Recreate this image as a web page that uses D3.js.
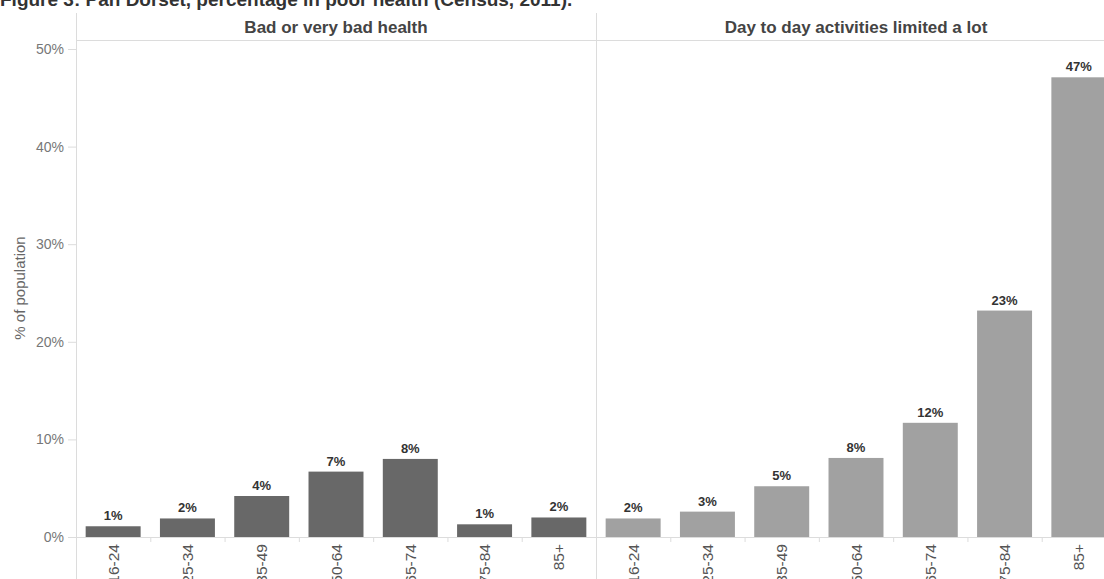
<!DOCTYPE html>
<html>
<head>
<meta charset="utf-8">
<script src="https://cdn.jsdelivr.net/npm/d3@7"></script>
<style>
  html, body { margin: 0; padding: 0; background: #fff; overflow: hidden; }
  svg { display: block; font-family: Arial, "Liberation Sans", sans-serif; }
</style>
</head>
<body>
<svg id="chart" width="1104" height="579"></svg>
<script>
// Age bands shared by both panels
const ageBands = ["16-24", "25-34", "35-49", "50-64", "65-74", "75-84", "85+"];

// Panel headings
const panels = ["Bad or very bad health", "Day to day activities limited a lot"];

// Percent of population in each age band
const badHealth = [1.1, 1.9, 4.2, 6.7, 8.0, 1.3, 2.0];
const limitedALot = [1.9, 2.6, 5.2, 8.1, 11.7, 23.2, 47.1];

// Y-axis ticks (percent)
const yTicks = [0, 10, 20, 30, 40, 50];

const panelValues = [badHealth, limitedALot];
const panelColors = ["#686868", "#a1a1a1"];

const title = "Figure 3: Pan Dorset, percentage in poor health (Census, 2011).";

const svg = d3.select("#chart");

const axisX = 76;        // left edge of the first panel
const panelW = 520;      // width of each panel
const headerTop = 13;
const headerBottom = 40;
const baseY = 537;
const topY = 49;

const y = d3.scaleLinear().domain([0, 50]).range([baseY, topY]);

const panelX = d3.scaleBand().domain(panels).range([axisX, axisX + panelW * 2]);

const x = d3.scaleBand()
  .domain(ageBands)
  .range([0, panelW])
  .paddingInner(0.26)
  .paddingOuter(0.13);

const gridColor = "#dcdcdc";

// Title (runs off the top edge of the page)
svg.append("text")
  .attr("x", 0)
  .attr("y", 6)
  .attr("font-size", 19)
  .attr("font-weight", "bold")
  .attr("fill", "#333")
  .text(title);

// Header rule
svg.append("line")
  .attr("x1", axisX).attr("x2", 1104)
  .attr("y1", headerBottom + 0.5).attr("y2", headerBottom + 0.5)
  .attr("stroke", gridColor);

// Left axis line and panel divider
svg.append("line")
  .attr("x1", axisX + 0.5).attr("x2", axisX + 0.5)
  .attr("y1", headerTop).attr("y2", 579)
  .attr("stroke", gridColor);

svg.append("line")
  .attr("x1", axisX + panelW + 0.5).attr("x2", axisX + panelW + 0.5)
  .attr("y1", headerTop).attr("y2", 579)
  .attr("stroke", gridColor);

// Y axis
const yAxis = d3.axisLeft(y)
  .tickValues(yTicks)
  .tickSize(8)
  .tickPadding(4)
  .tickFormat(d => d + "%");

const yg = svg.append("g")
  .attr("transform", `translate(${axisX},0)`)
  .call(yAxis);
yg.select(".domain").remove();
yg.selectAll(".tick line").attr("stroke", gridColor);
yg.selectAll(".tick text")
  .attr("font-size", 14)
  .attr("font-family", "Arial, 'Liberation Sans', sans-serif")
  .attr("fill", "#777");

// Y axis title
svg.append("text")
  .attr("transform", `translate(25,288) rotate(-90)`)
  .attr("text-anchor", "middle")
  .attr("font-size", 15)
  .attr("fill", "#666")
  .text("% of population");

// Panels
panels.forEach((name, i) => {
  const g = svg.append("g")
    .attr("transform", `translate(${panelX(name)},0)`);

  // Header
  g.append("text")
    .attr("x", panelW / 2)
    .attr("y", 33)
    .attr("text-anchor", "middle")
    .attr("font-size", 17)
    .attr("font-weight", "bold")
    .attr("fill", "#444")
    .text(name);

  // Baseline
  g.append("line")
    .attr("x1", 0).attr("x2", panelW)
    .attr("y1", baseY + 0.5).attr("y2", baseY + 0.5)
    .attr("stroke", gridColor);

  // Separator ticks between age bands
  g.selectAll("line.sep")
    .data(ageBands.slice(1))
    .join("line")
    .attr("class", "sep")
    .attr("x1", d => x(d) - x.step() * x.paddingInner() / 2 + 0.5)
    .attr("x2", d => x(d) - x.step() * x.paddingInner() / 2 + 0.5)
    .attr("y1", baseY).attr("y2", baseY + 5)
    .attr("stroke", gridColor);

  const vals = panelValues[i];
  const data = ageBands.map((a, j) => ({ age: a, value: vals[j] }));

  g.selectAll("rect.bar")
    .data(data)
    .join("rect")
    .attr("class", "bar")
    .attr("x", d => x(d.age))
    .attr("width", x.bandwidth())
    .attr("y", d => y(d.value))
    .attr("height", d => baseY - y(d.value))
    .attr("fill", panelColors[i]);

  g.selectAll("text.val")
    .data(data)
    .join("text")
    .attr("class", "val")
    .attr("x", d => x(d.age) + x.bandwidth() / 2)
    .attr("y", d => y(d.value) - 6)
    .attr("text-anchor", "middle")
    .attr("font-size", 13)
    .attr("font-weight", "bold")
    .attr("fill", "#333")
    .text(d => d3.format(".0f")(d.value) + "%");

  // Category labels, rotated (they run past the bottom edge)
  g.selectAll("text.cat")
    .data(ageBands)
    .join("text")
    .attr("class", "cat")
    .attr("transform", d => `translate(${x(d) + x.bandwidth() / 2 + 5.5},${baseY + 7}) rotate(-90)`)
    .attr("text-anchor", "end")
    .attr("font-size", 15.5)
    .attr("fill", "#555")
    .text(d => d);
});
</script>
</body>
</html>
